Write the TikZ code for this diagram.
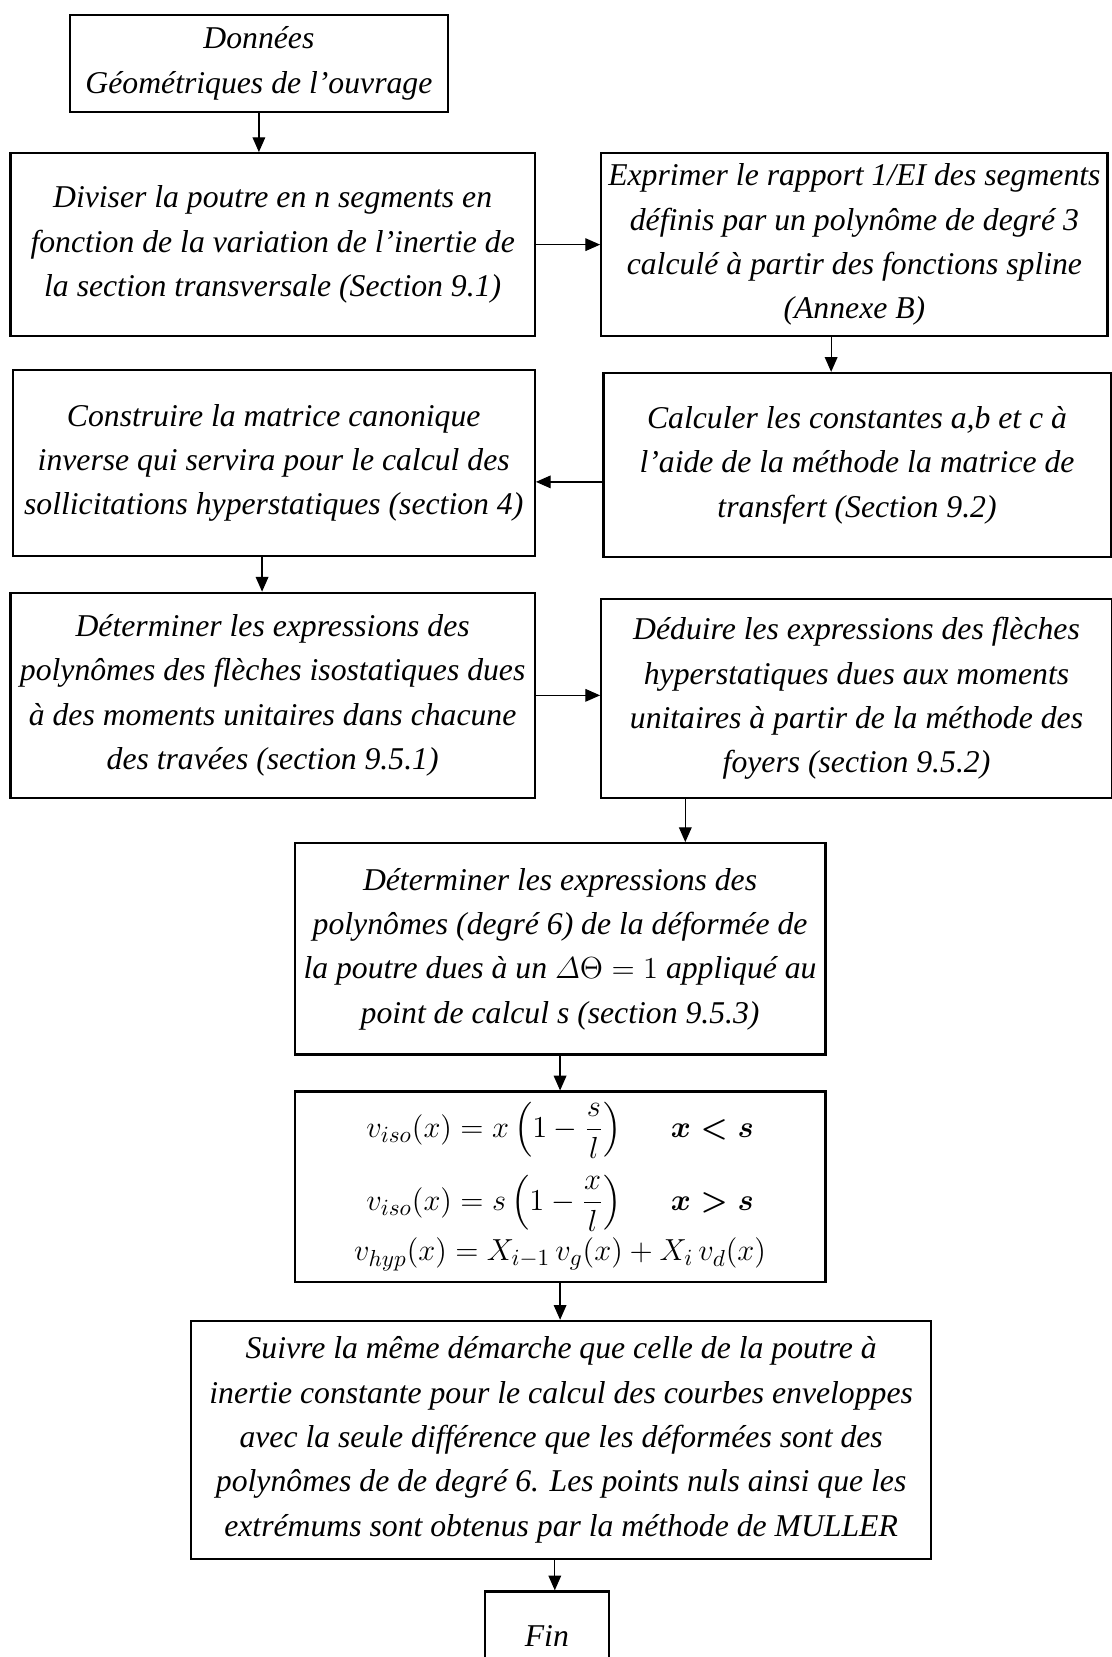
\documentclass[tikz,border=0pt]{standalone}
\usepackage{amsmath}
\usepackage[no-math]{fontspec}
\setmainfont{Liberation Serif}
\usetikzlibrary{positioning, arrows.meta, calc}

\begin{document}
\begin{tikzpicture}[x=0.5pt, y=-0.5pt,
    etape/.style={draw, line width=1.1pt, align=center, inner sep=2pt,
      font=\fontsize{15}{21}\selectfont\itshape},
    fleche/.style={-{Triangle[length=7pt, width=6pt]}, line width=0.6pt}]
  \useasboundingbox (0,0) rectangle (1052,1568);
  % les etapes
  \node[etape, minimum width=179pt, minimum height=46pt] (donnees) at (245,60)
    {Données\\Géométriques de l’ouvrage};
  \node[etape, minimum width=248pt, minimum height=86.5pt] (diviser) at (258,231.5)
    {Diviser la poutre en n segments en\\fonction de la variation de l’inertie de\\la section transversale (Section 9.1)};
  \node[etape, minimum width=239.5pt, minimum height=86.5pt] (exprimer) at (808.5,231.5)
    {Exprimer le rapport 1/EI des segments\\définis par un polynôme de degré 3\\calculé à partir des fonctions spline\\(Annexe B)};
  \node[etape, minimum width=240pt, minimum height=87pt] (calculer) at (811,440)
    {Calculer les constantes a,b et c à\\l’aide de la méthode la matrice de\\transfert (Section 9.2)};
  \node[etape, minimum width=247pt, minimum height=88pt] (construire) at (259,438)
    {Construire la matrice canonique\\inverse qui servira pour le calcul des\\sollicitations hyperstatiques (section 4)};
  \node[etape, minimum width=248pt, minimum height=97pt] (isostat) at (258,658)
    {Déterminer les expressions des\\polynômes des flèches isostatiques dues\\à des moments unitaires dans chacune\\des travées (section 9.5.1)};
  \node[etape, minimum width=241.5pt, minimum height=94pt] (deduire) at (810.5,661)
    {Déduire les expressions des flèches\\hyperstatiques dues aux moments\\unitaires à partir de la méthode des\\foyers (section 9.5.2)};
  \node[etape, minimum width=251pt, minimum height=100pt] (deformee) at (530,898)
    {Déterminer les expressions des\\polynômes (degré 6) de la déformée de\\la poutre dues à un $\varDelta\Theta = 1$ appliqué au\\point de calcul s (section 9.5.3)};
  \node[etape, font=\fontsize{15.5}{21}\selectfont, inner ysep=0pt, minimum width=251pt, minimum height=90pt] (formules) at (530,1123)
    {$v_{iso}(x) = x\left(1-\dfrac{s}{l}\right)$\hspace{1.5em}{\boldmath$x<s$}\\[7pt]
     $v_{iso}(x) = s\left(1-\dfrac{x}{l}\right)$\hspace{1.5em}{\boldmath$x>s$}\\[3pt]
     $v_{hyp}(x) = X_{i-1}\,v_g(x) + X_i\,v_d(x)$};
  \node[etape, minimum width=350pt, minimum height=112.5pt] (suivre) at (531,1362.5)
    {Suivre la même démarche que celle de la poutre à\\inertie constante pour le calcul des courbes enveloppes\\avec la seule différence que les déformées sont des\\polynômes de de degré 6. Les points nuls ainsi que les\\extrémums sont obtenus par la méthode de MULLER};
  \node[etape, minimum width=58.5pt, minimum height=42pt] (fin) at (517.5,1548) {Fin};
  % points de depart decales
  \coordinate (e1) at ([xshift=-11pt]exprimer.south);
  \coordinate (c1) at ([yshift=-8pt]calculer.west);
  \coordinate (k1) at ([xshift=-5.5pt]construire.south);
  \coordinate (d1) at ([xshift=-81pt]deduire.south);
  \coordinate (s1) at ([xshift=-3pt]suivre.south);
  % les fleches
  \draw[fleche] (donnees.south) -- (donnees.south |- diviser.north);
  \draw[fleche] (diviser.east) -- (diviser.east -| exprimer.west);
  \draw[fleche] (e1) -- (e1 |- calculer.north);
  \draw[fleche] (c1) -- (c1 -| construire.east);
  \draw[fleche] (k1) -- (k1 |- isostat.north);
  \draw[fleche] (isostat.east) -- (isostat.east -| deduire.west);
  \draw[fleche] (d1) -- (d1 |- deformee.north);
  \draw[fleche] (deformee.south) -- (formules.north);
  \draw[fleche] (formules.south) -- (formules.south |- suivre.north);
  \draw[fleche] (s1) -- (s1 |- fin.north);
\end{tikzpicture}
\end{document}
